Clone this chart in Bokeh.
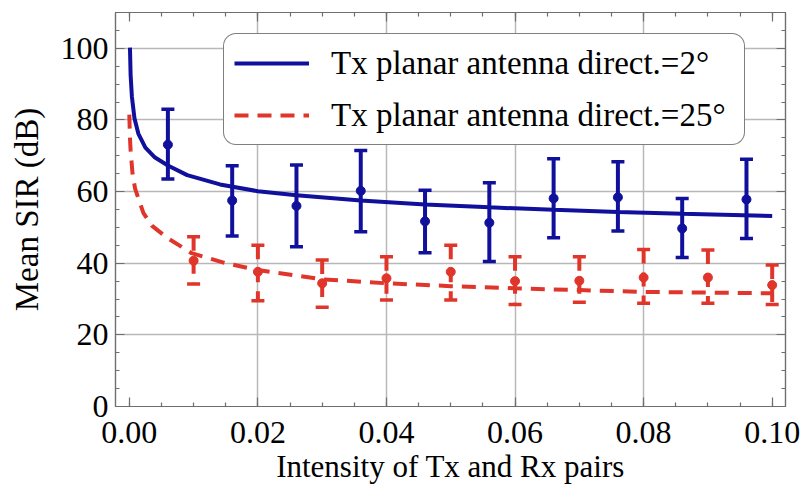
from bokeh.plotting import figure
from bokeh.models import (ColumnDataSource, FixedTicker, LinearAxis, Legend, LegendItem,
                          NumeralTickFormatter, Range1d)
from bokeh.embed import file_html
from bokeh.resources import INLINE

# ---------------- data ----------------
blue_x = [0.006, 0.016, 0.026, 0.036, 0.046, 0.056, 0.066, 0.076, 0.086, 0.096]
blue_mean = [73.1, 57.5, 56.0, 60.2, 51.7, 51.3, 58.1, 58.4, 49.7, 57.8]
blue_hi = [83.0, 67.2, 67.4, 71.5, 60.4, 62.5, 69.2, 68.3, 58.1, 69.0]
blue_lo = [63.5, 47.6, 44.6, 48.8, 42.9, 40.5, 47.1, 49.0, 41.6, 46.9]

red_x = [0.01, 0.02, 0.03, 0.04, 0.05, 0.06, 0.07, 0.08, 0.09, 0.10]
red_mean = [40.7, 37.6, 34.4, 35.8, 37.6, 35.0, 35.1, 36.0, 36.0, 33.9]
red_hi = [47.4, 45.0, 40.9, 41.8, 45.0, 41.8, 41.8, 43.8, 43.7, 39.5]
red_lo = [34.2, 29.5, 27.7, 29.7, 29.7, 28.5, 29.1, 28.8, 28.8, 28.5]

blue_curve_x = [0.0001, 0.0002, 0.0004, 0.0008, 0.0014, 0.0025, 0.004, 0.006, 0.009,
                0.0141, 0.02, 0.026, 0.036, 0.046, 0.056, 0.066, 0.076, 0.086, 0.1]
blue_curve_y = [100.2, 92.6, 86.5, 80.5, 76.2, 72.3, 69.5, 67.3, 64.6,
                62.0, 60.1, 59.0, 57.5, 56.4, 55.6, 54.9, 54.3, 53.8, 53.2]

red_curve_x = [0.0, 0.0001, 0.0002, 0.0005, 0.0009, 0.0022, 0.0035, 0.0058, 0.0097,
               0.015, 0.02, 0.03, 0.04, 0.05, 0.06, 0.07, 0.08, 0.09, 0.1]
red_curve_y = [81.5, 75.0, 71.5, 65.0, 60.8, 54.0, 50.5, 47.2, 42.8,
               40.0, 38.1, 35.5, 34.4, 33.6, 33.0, 32.5, 32.0, 31.8, 31.6]

x_ticks = [0.0, 0.02, 0.04, 0.06, 0.08, 0.10]
y_ticks = [0, 20, 40, 60, 80, 100]
label_blue = "Tx planar antenna direct.=2°"
label_red = "Tx planar antenna direct.=25°"
x_label = "Intensity of Tx and Rx pairs"
y_label = "Mean SIR (dB)"

# ---------------- styling ----------------
BLUE = "#10109C"
RED = "#E0352A"
FONT = "Liberation Serif"
FRAME = "#6e6e6e"
GRID = "#b8b8b8"
DASH = "14 9"

x_minor = [i * 0.005 for i in range(0, 21)]
y_minor = [i * 5 for i in range(0, 23)]

p = figure(width=803, height=488, output_backend="svg", toolbar_location=None,
           x_range=Range1d(-0.00215, 0.10207), y_range=Range1d(0, 110),
           min_border_left=115, min_border_right=18, min_border_top=12, min_border_bottom=82)
p.background_fill_color = "white"
p.border_fill_color = "white"
p.outline_line_color = FRAME
p.outline_line_width = 1.2

# grid
p.xgrid.ticker = FixedTicker(ticks=x_ticks[1:-1])
p.ygrid.ticker = FixedTicker(ticks=y_ticks[1:])
for g in (p.xgrid, p.ygrid):
    g.grid_line_color = GRID
    g.grid_line_width = 1.5

def style_axis(ax, show_labels):
    ax.axis_line_color = FRAME
    ax.axis_line_width = 1.2
    ax.major_tick_in = 9
    ax.major_tick_out = 0
    ax.minor_tick_in = 4
    ax.minor_tick_out = 0
    ax.major_tick_line_color = FRAME
    ax.minor_tick_line_color = FRAME
    ax.major_tick_line_width = 1.2
    ax.minor_tick_line_width = 1.2
    if show_labels:
        ax.major_label_text_font = FONT
        ax.major_label_text_font_size = "32px"
        ax.major_label_text_color = "black"
    else:
        ax.major_label_text_font_size = "1px"
        ax.major_label_text_color = None
        ax.major_label_standoff = 0

xt = FixedTicker(ticks=x_ticks, minor_ticks=x_minor)
yt = FixedTicker(ticks=y_ticks, minor_ticks=y_minor)

xa = p.xaxis[0]
xa.ticker = xt
xa.formatter = NumeralTickFormatter(format="0.00")
style_axis(xa, True)
xa.major_label_standoff = 15
xa.axis_label = x_label
xa.axis_label_text_font = FONT
xa.axis_label_text_font_size = "31px"
xa.axis_label_text_font_style = "normal"
xa.axis_label_text_color = "black"
xa.axis_label_standoff = 3

ya = p.yaxis[0]
ya.ticker = yt
style_axis(ya, True)
ya.major_label_standoff = 7
ya.axis_label = y_label
ya.axis_label_text_font = FONT
ya.axis_label_text_font_size = "33px"
ya.axis_label_text_font_style = "normal"
ya.axis_label_text_color = "black"
ya.axis_label_standoff = 13

top_ax = LinearAxis(ticker=FixedTicker(ticks=x_ticks, minor_ticks=x_minor))
style_axis(top_ax, False)
p.add_layout(top_ax, "above")
right_ax = LinearAxis(ticker=FixedTicker(ticks=y_ticks, minor_ticks=y_minor))
style_axis(right_ax, False)
p.add_layout(right_ax, "right")

# ---------------- curves ----------------
blue_line = p.line(blue_curve_x, blue_curve_y, line_color=BLUE, line_width=4)
red_line = p.line(red_curve_x, red_curve_y, line_color=RED, line_width=4, line_dash=DASH)

# ---------------- error bars ----------------
bsrc = ColumnDataSource(dict(x=blue_x, m=blue_mean, hi=blue_hi, lo=blue_lo))
rsrc = ColumnDataSource(dict(x=red_x, m=red_mean, hi=red_hi, lo=red_lo))

p.segment(x0="x", y0="hi", x1="x", y1="lo", source=bsrc, line_color=BLUE, line_width=4)
p.scatter(x="x", y="hi", source=bsrc, marker="dash", size=13, line_color=BLUE, line_width=3.5)
p.scatter(x="x", y="lo", source=bsrc, marker="dash", size=13, line_color=BLUE, line_width=3.5)
p.scatter(x="x", y="m", source=bsrc, marker="circle", size=9, fill_color=BLUE, line_color=BLUE)

p.segment(x0="x", y0="hi", x1="x", y1="lo", source=rsrc, line_color=RED, line_width=4,
          line_dash=DASH)
p.scatter(x="x", y="hi", source=rsrc, marker="dash", size=13, line_color=RED, line_width=3.5)
p.scatter(x="x", y="lo", source=rsrc, marker="dash", size=13, line_color=RED, line_width=3.5)
p.scatter(x="x", y="m", source=rsrc, marker="circle", size=9, fill_color=RED, line_color=RED)

# ---------------- legend ----------------
legend = Legend(items=[LegendItem(label=label_blue, renderers=[blue_line]),
                       LegendItem(label=label_red, renderers=[red_line])],
                location=(108, 261), orientation="vertical",
                label_text_font=FONT, label_text_font_size="33px", label_text_color="black",
                glyph_width=75, glyph_height=38, label_height=38, label_standoff=22,
                label_width=403, padding=10, spacing=14, margin=0,
                border_line_color="black", border_line_width=1.5,
                background_fill_color="white", background_fill_alpha=1.0)
if "border_radius" in Legend.properties():
    legend.border_radius = 13
p.add_layout(legend, "center")

open("out.html", "w").write(file_html(p, INLINE))
